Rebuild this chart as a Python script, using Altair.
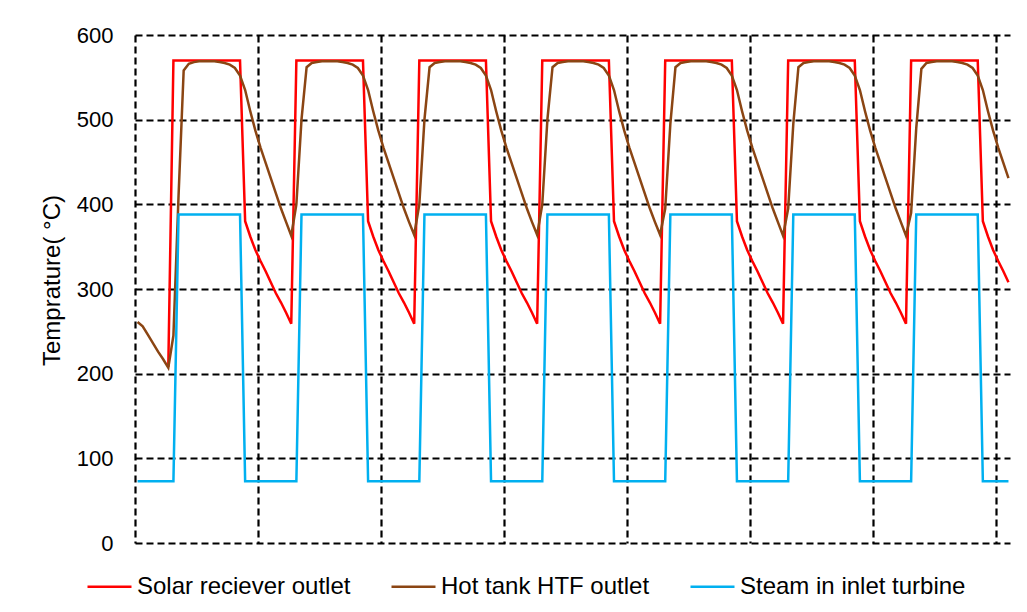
import altair as alt
import pandas as pd

# hour index (one value per hour)
hours = list(range(171))

# Solar receiver outlet temperature (°C); first hours hidden under the tank curve
red = (
    [None, None, None, None, None, None, 208, 570, 570, 570, 570, 570, 570, 570, 570, 570, 570, 570, 570, 570, 570, 380, 362, 346]
    + [333, 321, 308, 295, 284, 272, 259, 570, 570, 570, 570, 570, 570, 570, 570, 570, 570, 570, 570, 570, 570, 380, 362, 346]
    + [333, 321, 308, 295, 284, 272, 259, 570, 570, 570, 570, 570, 570, 570, 570, 570, 570, 570, 570, 570, 570, 380, 362, 346]
    + [333, 321, 308, 295, 284, 272, 259, 570, 570, 570, 570, 570, 570, 570, 570, 570, 570, 570, 570, 570, 570, 380, 362, 346]
    + [333, 321, 308, 295, 284, 272, 259, 570, 570, 570, 570, 570, 570, 570, 570, 570, 570, 570, 570, 570, 570, 380, 362, 346]
    + [333, 321, 308, 295, 284, 272, 259, 570, 570, 570, 570, 570, 570, 570, 570, 570, 570, 570, 570, 570, 570, 380, 362, 346]
    + [333, 321, 308, 295, 284, 272, 259, 570, 570, 570, 570, 570, 570, 570, 570, 570, 570, 570, 570, 570, 570, 380, 362, 346]
    + [333, 321, 308]
)

# Hot tank HTF outlet temperature (°C)
brown = (
    [261, 256, 246, 236, 226, 217, 207, 245, 410, 558, 566, 568, 569, 569, 569, 569, 568, 567, 565, 561, 552, 535, 510, 487]
    + [467, 449, 431, 413, 395, 379, 363, 400, 500, 562, 567, 568, 569, 569, 569, 569, 568, 567, 565, 561, 552, 535, 510, 487]
    + [467, 449, 431, 413, 395, 379, 364, 400, 500, 562, 567, 568, 569, 569, 569, 569, 568, 567, 565, 561, 552, 535, 510, 487]
    + [467, 449, 431, 413, 395, 379, 364, 400, 500, 562, 567, 568, 569, 569, 569, 569, 568, 567, 565, 561, 552, 535, 510, 487]
    + [467, 449, 431, 413, 395, 379, 364, 395, 495, 562, 567, 568, 569, 569, 569, 569, 568, 567, 565, 561, 552, 535, 510, 487]
    + [467, 449, 431, 413, 395, 379, 363, 395, 495, 562, 567, 568, 569, 569, 569, 569, 568, 567, 565, 561, 552, 535, 510, 487]
    + [467, 449, 431, 413, 395, 379, 363, 390, 490, 560, 567, 568, 569, 569, 569, 569, 568, 567, 565, 561, 552, 535, 510, 487]
    + [467, 449, 431]
)

# Steam in inlet turbine temperature (°C)
blue = (
    [73, 73, 73, 73, 73, 73, 73, 73, 388, 388, 388, 388, 388, 388, 388, 388, 388, 388, 388, 388, 388, 73, 73, 73]
    + [73, 73, 73, 73, 73, 73, 73, 73, 388, 388, 388, 388, 388, 388, 388, 388, 388, 388, 388, 388, 388, 73, 73, 73]
    + [73, 73, 73, 73, 73, 73, 73, 73, 388, 388, 388, 388, 388, 388, 388, 388, 388, 388, 388, 388, 388, 73, 73, 73]
    + [73, 73, 73, 73, 73, 73, 73, 73, 388, 388, 388, 388, 388, 388, 388, 388, 388, 388, 388, 388, 388, 73, 73, 73]
    + [73, 73, 73, 73, 73, 73, 73, 73, 388, 388, 388, 388, 388, 388, 388, 388, 388, 388, 388, 388, 388, 73, 73, 73]
    + [73, 73, 73, 73, 73, 73, 73, 73, 388, 388, 388, 388, 388, 388, 388, 388, 388, 388, 388, 388, 388, 73, 73, 73]
    + [73, 73, 73, 73, 73, 73, 73, 73, 388, 388, 388, 388, 388, 388, 388, 388, 388, 388, 388, 388, 388, 73, 73, 73]
    + [73, 73, 73]
)

series_names = ["Solar reciever outlet", "Hot tank HTF outlet", "Steam in inlet turbine"]
series_colors = ["#FF0000", "#8B4513", "#00B0F0"]
y_ticks = [0, 100, 200, 300, 400, 500, 600]
x_grid = [-0.5, 23.5, 47.5, 71.5, 95.5, 119.5, 143.5, 167.5]

rows = []
for name, vals in zip(series_names, [red, brown, blue]):
    for h, v in zip(hours, vals):
        if v is not None:
            rows.append({"hour": h, "temp": v, "series": name})
df = pd.DataFrame(rows)

FONT = "Liberation Sans"

color = alt.Color(
    "series:N",
    scale=alt.Scale(domain=series_names, range=series_colors),
    legend=alt.Legend(
        title=None,
        orient="none",
        direction="horizontal",
        legendX=-49,
        legendY=528,
        symbolType="stroke",
        symbolSize=1936,
        symbolStrokeWidth=2.5,
        labelFont=FONT,
        labelFontSize=24,
        labelColor="#000000",
        labelLimit=0,
        labelOffset=4,
        columnPadding=35,
    ),
)

x = alt.X(
    "hour:Q",
    scale=alt.Scale(domain=[-0.5, 170.3], nice=False, zero=False),
    axis=alt.Axis(values=x_grid, labels=False, ticks=False, domain=False, grid=True, title=None),
)
y = alt.Y(
    "temp:Q",
    scale=alt.Scale(domain=[0, 600], nice=False),
    axis=alt.Axis(
        values=y_ticks,
        ticks=False,
        domain=False,
        grid=True,
        labelFont=FONT,
        labelFontSize=22,
        labelColor="#000000",
        labelPadding=22,
        title="Temprature( °C)",
        titleFont=FONT,
        titleFontSize=24,
        titleFontWeight="normal",
        titleColor="#000000",
        titleAngle=270,
        titleX=-76,
        titleY=245,
        titleAlign="center",
        titleBaseline="alphabetic",
    ),
)

layers = [
    alt.Chart(df)
    .transform_filter(alt.datum.series == name)
    .mark_line(strokeWidth=2.5, clip=True)
    .encode(x=x, y=y, color=color)
    for name in series_names
]

chart = (
    alt.layer(*layers)
    .properties(
        width=875,
        height=508,
        padding={"left": 127, "top": 27, "right": 9, "bottom": 61},
        autosize=alt.AutoSizeParams(type="none"),
        background="white",
    )
    .configure_view(stroke=None)
    .configure_axis(gridColor="#000000", gridDash=[7, 4], gridWidth=2.2, gridOpacity=1)
)

chart.save("out.html", embed_options={"renderer": "svg", "actions": False})
